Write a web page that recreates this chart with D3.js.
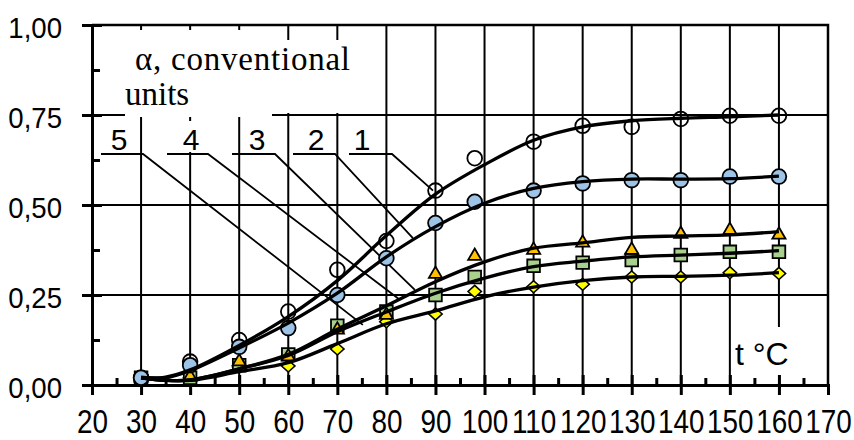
<!DOCTYPE html>
<html>
<head>
<meta charset="utf-8">
<script src="https://cdn.jsdelivr.net/npm/d3@7"></script>
<style>
  html, body { margin: 0; padding: 0; background: #fff; }
  svg { display: block; }
</style>
</head>
<body>
<svg id="chart" width="854" height="440"></svg>
<script>
// Measured temperatures (°C)
const temps = [30, 40, 50, 60, 70, 80, 90, 98, 110, 120, 130, 140, 150, 160];

// Measured conversion degree α for samples 1–5
const alpha1 = [0.02, 0.065, 0.125, 0.204, 0.32, 0.40, 0.54, 0.63, 0.676, 0.72, 0.717, 0.739, 0.748, 0.748];
const alpha2 = [0.02, 0.055, 0.106, 0.158, 0.25, 0.352, 0.45, 0.509, 0.54, 0.56, 0.569, 0.569, 0.579, 0.579];
const alpha3 = [0.02, 0.023, 0.065, 0.079, 0.153, 0.194, 0.308, 0.358, 0.375, 0.395, 0.375, 0.419, 0.43, 0.417];
const alpha4 = [0.02, 0.02, 0.055, 0.085, 0.165, 0.204, 0.25, 0.30, 0.331, 0.34, 0.347, 0.361, 0.37, 0.37];
const alpha5 = [0.02, 0.02, 0.05, 0.053, 0.10, 0.176, 0.197, 0.26, 0.273, 0.28, 0.30, 0.30, 0.312, 0.31];

// Smoothed (fitted) curves for samples 1–5
const fitTemps = [30, 35, 40, 50, 60, 70, 80, 90, 100, 110, 120, 130, 140, 150, 160];
const fit1 = [0.02, 0.022, 0.042, 0.11, 0.19, 0.29, 0.415, 0.53, 0.612, 0.68, 0.717, 0.734, 0.741, 0.745, 0.75];
const fit2 = [0.022, 0.02, 0.04, 0.103, 0.172, 0.255, 0.356, 0.44, 0.505, 0.546, 0.565, 0.572, 0.572, 0.573, 0.58];
const fit3 = [0.02, 0.013, 0.014, 0.045, 0.085, 0.155, 0.22, 0.287, 0.342, 0.38, 0.395, 0.41, 0.414, 0.417, 0.426];
const fit4 = [0.02, 0.013, 0.014, 0.045, 0.082, 0.148, 0.203, 0.255, 0.297, 0.329, 0.344, 0.356, 0.361, 0.366, 0.373];
const fit5 = [0.02, 0.013, 0.013, 0.037, 0.062, 0.115, 0.17, 0.206, 0.245, 0.272, 0.29, 0.30, 0.302, 0.305, 0.312];

// Axis ticks
const xTicks = [20, 30, 40, 50, 60, 70, 80, 90, 100, 110, 120, 130, 140, 150, 160, 170];
const yTicks = [0, 0.25, 0.5, 0.75, 1.0];
const yTickLabels = ["0,00", "0,25", "0,50", "0,75", "1,00"];

// Curve numbers and the point on each curve their callout lines point to
const curveNames = ["1", "2", "3", "4", "5"];
const calloutTemp = [89.5, 85.4, 85.8, 82.8, 75.2];
const calloutAlpha = [0.54, 0.408, 0.264, 0.236, 0.167];

// ---- layout ----
const W = 854, H = 440;
const margin = { left: 92, right: 26, top: 25, bottom: 55 };
const svg = d3.select("#chart");
const x = d3.scaleLinear().domain([20, 170]).range([margin.left, W - margin.right]);
const y = d3.scaleLinear().domain([0, 1]).range([H - margin.bottom, margin.top]);
const x0 = x(20), x1 = x(170), yBot = y(0), yTop = y(1);

svg.append("rect").attr("width", W).attr("height", H).attr("fill", "#fff");

// grid
const grid = svg.append("g").attr("stroke", "#000").attr("stroke-width", 2);
grid.selectAll("line.v").data(d3.range(30, 161, 10)).join("line")
  .attr("x1", d => x(d)).attr("x2", d => x(d)).attr("y1", yTop).attr("y2", yBot);
grid.selectAll("line.h").data([0.25, 0.5, 0.75]).join("line")
  .attr("x1", x0).attr("x2", x1).attr("y1", d => y(d)).attr("y2", d => y(d));
// frame top and right
svg.append("path").attr("fill", "none").attr("stroke", "#000").attr("stroke-width", 2.5)
  .attr("d", `M${x0},${yTop}H${x1}V${yBot}`);

// white boxes behind the annotation texts
const boxes = [
  [125, 30, 272, 117],
  [272, 40, 355, 113],
  [176, 121, 206, 152],
  [739, 327, 826, 383]
];
svg.append("g").selectAll("rect").data(boxes).join("rect")
  .attr("x", d => d[0]).attr("y", d => d[1])
  .attr("width", d => d[2] - d[0]).attr("height", d => d[3] - d[1])
  .attr("fill", "#fff");

// axes
const fmtY = d => yTickLabels[yTicks.indexOf(d)];
const yAxis = svg.append("g").attr("transform", `translate(${x0},0)`)
  .call(d3.axisLeft(y).tickValues(yTicks).tickFormat(fmtY).tickSizeOuter(0).tickSize(10).tickPadding(0));
yAxis.select(".domain").attr("stroke-width", 3);
yAxis.selectAll(".tick line").attr("x1", 10).attr("x2", -10).attr("stroke-width", 3);
yAxis.selectAll(".tick text")
  .attr("font-family", "'Liberation Sans', Arial, sans-serif").attr("font-size", 30)
  .attr("fill", "#000").attr("x", -30 / 0.92).attr("dy", "0.40em")
  .attr("transform", "scale(0.92,1)");
const yMinor = svg.append("g").attr("transform", `translate(${x0},0)`)
  .call(d3.axisLeft(y).tickValues([0.125, 0.375, 0.625, 0.875]).tickFormat("").tickSize(-8).tickSizeOuter(0));
yMinor.select(".domain").remove();
yMinor.selectAll(".tick line").attr("stroke-width", 3);

const xAxis = svg.append("g").attr("transform", `translate(0,${yBot})`)
  .call(d3.axisBottom(x).tickValues(xTicks).tickFormat(d3.format("d")).tickSizeOuter(0).tickSize(10));
xAxis.select(".domain").attr("stroke-width", 3);
xAxis.selectAll(".tick line").attr("y1", d => (d === 20 || d === 170) ? 0 : -10).attr("y2", 10).attr("stroke-width", 3);
xAxis.selectAll(".tick text")
  .attr("font-family", "'Liberation Sans', Arial, sans-serif").attr("font-size", 34)
  .attr("fill", "#000").attr("y", 48).attr("dy", 0)
  .attr("transform", "scale(0.82,1)");
const xMinor = svg.append("g").attr("transform", `translate(0,${yBot})`)
  .call(d3.axisBottom(x).tickValues(d3.range(25, 170, 10)).tickFormat("").tickSize(-7).tickSizeOuter(0));
xMinor.select(".domain").remove();
xMinor.selectAll(".tick line").attr("stroke-width", 3);

svg.selectAll(".domain").attr("stroke", "#000");

// axis titles
const serif = "'Liberation Serif', 'Times New Roman', serif";
svg.append("text").attr("x", 135).attr("y", 70).attr("font-family", serif).attr("font-size", 33)
  .attr("textLength", 215).attr("fill", "#000").text("α, conventional");
svg.append("text").attr("x", 125).attr("y", 105).attr("font-family", serif).attr("font-size", 33)
  .attr("fill", "#000").text("units");
svg.append("text").attr("x", 735).attr("y", 365).attr("font-family", "'Liberation Sans', Arial, sans-serif")
  .attr("font-size", 32).attr("fill", "#000").text("t °C");

// curve number labels with callout lines
const labelCenters = [362, 316, 257, 191, 119];
const underline = [[349, 392], [293, 335], [232, 275], [167, 208], [101, 143]];
const lblY = 154;
const callouts = svg.append("g");
curveNames.forEach((name, i) => {
  callouts.append("text").attr("x", labelCenters[i]).attr("y", 150).attr("text-anchor", "middle")
    .attr("font-family", "'Liberation Sans', Arial, sans-serif").attr("font-size", 30)
    .attr("fill", "#000").text(name);
  callouts.append("path").attr("fill", "none").attr("stroke", "#000").attr("stroke-width", 1.8)
    .attr("d", `M${underline[i][0]},${lblY}H${underline[i][1]}L${x(calloutTemp[i])},${y(calloutAlpha[i])}`);
});

// markers
const markerSets = [
  { vals: alpha1, type: d3.symbolCircle, size: 170, fill: "none" },
  { vals: alpha5, type: "diamond", size: 0, fill: "#FFFF00" },
  { vals: alpha4, type: d3.symbolSquare, size: 160, fill: "#A9D18E" },
  { vals: alpha3, type: d3.symbolTriangle, size: 75, fill: "#FFC000" },
  { vals: alpha2, type: d3.symbolCircle, size: 170, fill: "#9DC3E6" }
];
const mk = svg.append("g");
markerSets.forEach(set => {
  const g = mk.append("g");
  temps.forEach((t, i) => {
    const v = set.vals[i];
    if (set.type === "diamond") {
      g.append("path")
        .attr("d", d3.symbol(d3.symbolSquare, 90)())
        .attr("transform", `translate(${x(t)},${y(v)}) scale(1,0.9) rotate(45)`)
        .attr("fill", set.fill).attr("stroke", "#000").attr("stroke-width", 1.6);
    } else {
      g.append("path")
        .attr("d", d3.symbol(set.type, set.size)())
        .attr("transform", `translate(${x(t)},${y(v)})`)
        .attr("fill", set.fill).attr("stroke", "#000").attr("stroke-width", 1.8);
    }
  });
});

// fitted curves
const line = d3.line().x(d => x(d[0])).y(d => y(d[1])).curve(d3.curveCatmullRom.alpha(0.5));
[fit1, fit2, fit3, fit4, fit5].forEach(f => {
  svg.append("path").datum(fitTemps.map((t, i) => [t, f[i]]))
    .attr("fill", "none").attr("stroke", "#000").attr("stroke-width", 3.3)
    .attr("d", line);
});
</script>
</body>
</html>
